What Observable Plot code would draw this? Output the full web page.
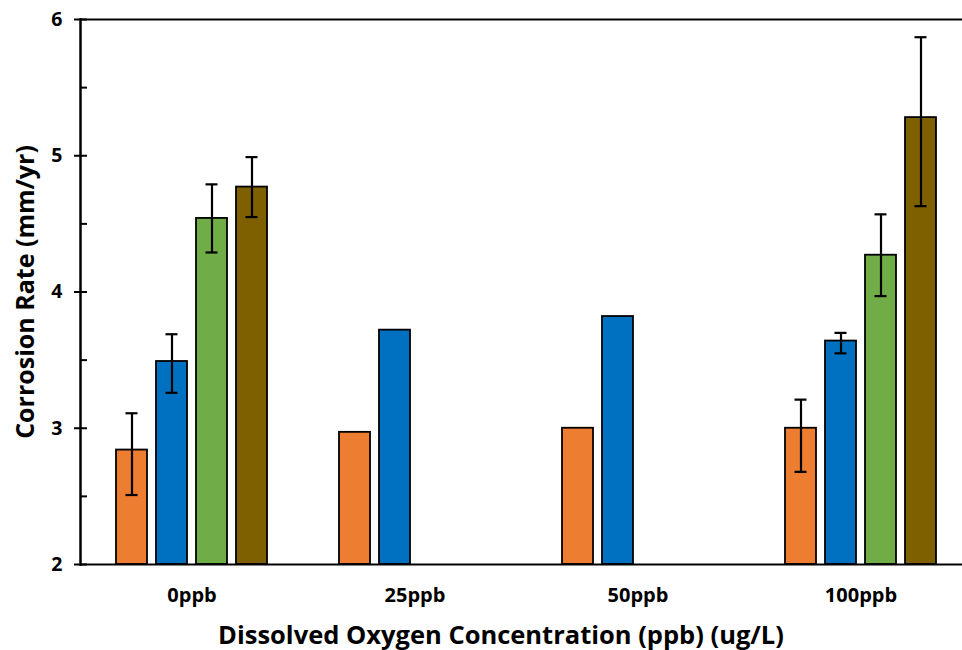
<!DOCTYPE html>
<html>
<head>
<meta charset="utf-8">
<script src="https://cdn.jsdelivr.net/npm/d3@7"></script>
<script src="https://cdn.jsdelivr.net/npm/@observablehq/plot@0.6"></script>
<style>
  html, body { margin: 0; padding: 0; background: #fff; }
  #wrap { width: 962px; height: 650px; overflow: hidden; position: relative; }
  #wrap svg { max-width: none !important; }
  #xtitle { box-sizing: border-box; width: 962px; padding-left: 40px; text-align: center; font-family: 'Open Sans', sans-serif; font-weight: bold; font-size: 25.5px; line-height: 29px; color: #000; margin-top: 0; white-space: nowrap; }
</style>
</head>
<body>
<div id="wrap"><div id="chart"></div><div id="xtitle"></div></div>
<script>
const groups = ["0ppb", "25ppb", "50ppb", "100ppb"];
const series = ["Series 1", "Series 2", "Series 3", "Series 4"];
const colors = ["#ED7D31", "#0070C0", "#70AD47", "#7F6000"];

const s1Values = [2.84, 2.97, 3.00, 3.00];
const s2Values = [3.49, 3.72, 3.82, 3.64];
const s3Values = [4.54, null, null, 4.27];
const s4Values = [4.77, null, null, 5.28];

const s1ErrHigh = [3.11, null, null, 3.21];
const s1ErrLow  = [2.51, null, null, 2.68];
const s2ErrHigh = [3.69, null, null, 3.70];
const s2ErrLow  = [3.26, null, null, 3.55];
const s3ErrHigh = [4.79, null, null, 4.57];
const s3ErrLow  = [4.29, null, null, 3.97];
const s4ErrHigh = [4.99, null, null, 5.87];
const s4ErrLow  = [4.55, null, null, 4.63];

const yTicks = [2, 3, 4, 5, 6];
const yMinorTicks = [2, 2.5, 3, 3.5, 4, 4.5, 5, 5.5, 6];

const xTitle = "Dissolved Oxygen Concentration (ppb) (ug/L)";
const yTitle = "Corrosion Rate (mm/yr)";

const valueSets = [s1Values, s2Values, s3Values, s4Values];
const highSets = [s1ErrHigh, s2ErrHigh, s3ErrHigh, s4ErrHigh];
const lowSets = [s1ErrLow, s2ErrLow, s3ErrLow, s4ErrLow];

const rows = [];
groups.forEach((g, gi) => {
  series.forEach((s, si) => {
    const v = valueSets[si][gi];
    if (v != null) rows.push({group: g, series: s, value: v, hi: highSets[si][gi], lo: lowSets[si][gi]});
  });
});
const errRows = rows.filter(d => d.hi != null);

const FONT = "'Open Sans', sans-serif";

const chart = Plot.plot({
  width: 972,
  height: 620,
  marginLeft: 80,
  marginRight: 0,
  marginTop: 19,
  marginBottom: 56,
  style: {fontFamily: FONT, background: "#fff", color: "#000", maxWidth: "none"},
  fx: {domain: groups, padding: 0, label: null},
  x: {domain: series, paddingInner: 0.225, paddingOuter: 0.9, axis: null},
  y: {domain: [2, 6], axis: null},
  color: {domain: series, range: colors},
  marks: [
    Plot.barY(rows, {fx: "group", x: "series", y1: 2, y2: "value", fill: "series", stroke: "#000", strokeWidth: 1.8}),
    Plot.ruleX(errRows, {fx: "group", x: "series", y1: "lo", y2: "hi", stroke: "#000", strokeWidth: 2.2}),
    Plot.tickY(errRows, {fx: "group", x: "series", y: "hi", stroke: "#000", strokeWidth: 2.2, insetLeft: 9.5, insetRight: 9.5}),
    Plot.tickY(errRows, {fx: "group", x: "series", y: "lo", stroke: "#000", strokeWidth: 2.2, insetLeft: 9.5, insetRight: 9.5}),
    Plot.ruleY([2, 6], {stroke: "#000", strokeWidth: 2}),
    Plot.axisY(yMinorTicks, {anchor: "left", tickSize: 7, dx: 7, text: null, label: null, stroke: "#000", strokeWidth: 2, facetAnchor: "left"}),
    Plot.axisY(yTicks, {anchor: "left", tickSize: 6, tickPadding: 12, tickFormat: d => String(d), label: null, fontSize: 19.5, fontWeight: "bold", fill: "#000", stroke: "#000", strokeWidth: 2, facetAnchor: "left"}),
    Plot.frame({anchor: "left", stroke: "#000", strokeWidth: 2.5, facetAnchor: "left"}),
    Plot.axisFx({anchor: "bottom", tickSize: 0, tickPadding: 23, label: null, fontSize: 20, fontWeight: "bold", fill: "#000"}),
    Plot.text([yTitle], {frameAnchor: "left", textAnchor: "middle", dx: -55, rotate: -90, fontSize: 25, fontWeight: "bold", fill: "#000", facetAnchor: "left"})
  ]
});
document.getElementById("chart").appendChild(chart);
document.getElementById("xtitle").textContent = xTitle;
</script>
</body>
</html>
